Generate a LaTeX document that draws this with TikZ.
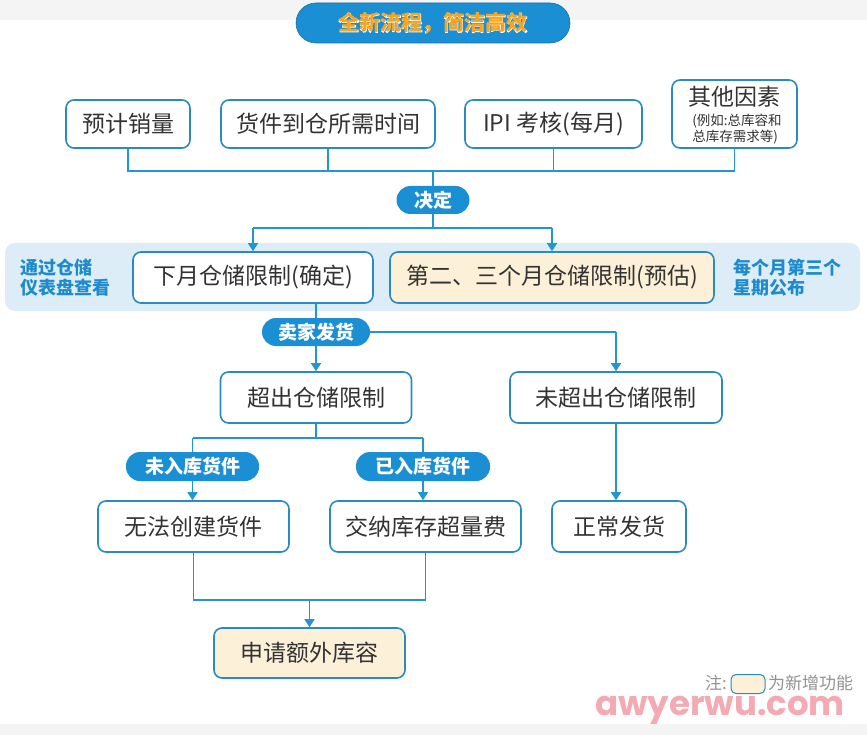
\documentclass[tikz,border=0pt]{standalone}
\usepackage{fontspec}
\usetikzlibrary{arrows.meta,calc}
\newfontfamily\cjk{Noto Sans CJK SC}
\newfontfamily\cjkout[FakeBold=5]{Noto Sans CJK SC}
\newfontfamily\wmfont{Poppins}
\definecolor{bcol}{HTML}{2A8AC4}
\definecolor{lcol}{HTML}{2196D3}
\definecolor{pcol}{HTML}{1A8FD4}
\definecolor{tcol}{HTML}{333333}
\definecolor{cream}{HTML}{FDF0D8}
\definecolor{band}{HTML}{DCEDF7}
\definecolor{bandtxt}{HTML}{1E8CCC}
\definecolor{ttl}{HTML}{F7A520}
\definecolor{graybg}{HTML}{F4F4F4}
\definecolor{wmcol}{HTML}{F4AAB2}
\begin{document}
\begin{tikzpicture}[x=1pt,y=-1pt,
  box/.style={draw=bcol, line width=1.6pt, rounded corners=8pt, fill=white, text=tcol,
    font=\cjk\fontsize{23}{26}\selectfont, inner sep=0pt, align=center},
  newbox/.style={box, fill=cream},
  pill/.style={fill=pcol, rounded corners=14pt, text=white, inner sep=0pt,
    font=\cjk\bfseries\fontsize{19}{22}\selectfont},
  conn/.style={draw=lcol, line width=1.3pt},
  arr/.style={conn, -{Triangle[width=10pt,length=8pt]}},
  bandtext/.style={text=bandtxt, font=\cjk\bfseries\fontsize{18}{20}\selectfont, align=left, inner sep=0pt}
]
\useasboundingbox (0,0) rectangle (867,735);
\fill[white] (0,0) rectangle (867,735);
\fill[graybg] (0,0) rectangle (867,20);
\fill[graybg] (0,724) rectangle (867,735);

% title
\node[fill=pcol, draw=pcol!80!black, line width=0.6pt, rounded corners=20pt, minimum width=274pt, minimum height=40pt, inner sep=0pt] (title) at (433,23) {};
\node[text=white, font=\cjkout\fontsize{21}{24}\selectfont, inner sep=0pt] (titleout) at (title.center) {全新流程，简洁高效};
\node[text=ttl, font=\cjk\bfseries\fontsize{21}{24}\selectfont, inner sep=0pt] (titletext) at (title.center) {全新流程，简洁高效};

% top boxes
\node[box, minimum width=124pt, minimum height=48pt] (n1) at (128,124) {预计销量};
\node[box, minimum width=214pt, minimum height=48pt] (n2) at (328,124) {货件到仓所需时间};
\node[box, minimum width=177pt, minimum height=48pt] (n3) at (553.5,124) {IPI 考核(每月)};
\node[box, minimum width=125pt, minimum height=68pt] (n4) at (734.5,114) {};
\node[text=tcol, font=\cjk\fontsize{23}{26}\selectfont, inner sep=0pt] (n4a) at (734.5,97) {其他因素};
\node[text=tcol, font=\cjk\fontsize{13.5}{16}\selectfont, inner sep=0pt, align=left] (n4b) at (737,129) {(例如:总库容和\\总库存需求等)};

\coordinate (j1) at (0,171);
\draw[conn] (n1.south) -- (n1.south |- j1) -- (n4.south |- j1) -- (n4.south);
\draw[conn] (n2.south) -- (n2.south |- j1);
\draw[conn] (n3.south) -- (n3.south |- j1);

\node[pill, minimum width=73pt, minimum height=28pt] (decide) at (433,200) {决定};
\draw[conn] (decide.north |- j1) -- (decide.north);

% band
\fill[band, rounded corners=10pt] (5,243) rectangle (860,311);
\node[bandtext, anchor=west] (bl) at (20,278) {通过仓储\\仪表盘查看};
\node[bandtext, anchor=west] (br) at (733,278) {每个月第三个\\星期公布};

\node[box, minimum width=240pt, minimum height=51pt] (m1) at (253,277.5) {下月仓储限制(确定)};
\node[newbox, minimum width=324pt, minimum height=51pt] (m2) at (552,277.5) {第二、三个月仓储限制(预估)};

\coordinate (j2) at (0,228);
\draw[conn] (decide.south) -- (decide.south |- j2);
\draw[conn] (m1.north |- j2) -- (m2.north |- j2);
\draw[arr] (m1.north |- j2) -- (m1.north);
\draw[arr] (m2.north |- j2) -- (m2.north);

% seller ships
\node[pill, minimum width=108pt, minimum height=28pt] (sell) at (316,332) {卖家发货};
\draw[conn] (sell.north |- m1.south) -- (sell.north);

\node[box, minimum width=191pt, minimum height=51pt] (e1) at (316,397.5) {超出仓储限制};
\node[box, minimum width=212pt, minimum height=51pt] (e2) at (616,397.5) {未超出仓储限制};
\draw[arr] (sell.south) -- (sell.south |- e1.north);
\draw[conn] (sell.east) -- (e2.north |- sell.east);
\draw[arr] (e2.north |- sell.east) -- (e2.north);

% branches
\node[pill, minimum width=133pt, minimum height=29pt] (p1) at (192.5,466.5) {未入库货件};
\node[pill, minimum width=134pt, minimum height=29pt] (p2) at (423,466.5) {已入库货件};
\coordinate (j3) at (0,438);
\draw[conn] (e1.south) -- (e1.south |- j3);
\draw[conn] (p1.north |- j3) -- (p2.north |- j3);
\draw[conn] (p1.north |- j3) -- (p1.north);
\draw[conn] (p2.north |- j3) -- (p2.north);

\node[box, minimum width=191pt, minimum height=51pt] (b1) at (193.5,526.5) {无法创建货件};
\node[box, minimum width=191pt, minimum height=51pt] (b2) at (425.5,526.5) {交纳库存超量费};
\node[box, minimum width=134pt, minimum height=51pt] (b3) at (619,526.5) {正常发货};
\draw[arr] (p1.south) -- (p1.south |- b1.north);
\draw[arr] (p2.south) -- (p2.south |- b2.north);
\draw[arr] (e2.south) -- (e2.south |- b3.north);

\node[newbox, minimum width=191pt, minimum height=50pt] (last) at (309.5,653) {申请额外库容};
\coordinate (j4) at (0,600);
\draw[conn] (b1.south) -- (b1.south |- j4) -- (b2.south |- j4) -- (b2.south);
\draw[arr] (last.north |- j4) -- (last.north);

% legend
\node[text=gray!85, font=\cjk\fontsize{17}{19}\selectfont, inner sep=0pt, anchor=east] (lg1) at (727,683) {注:};
\node[draw=bcol, fill=cream, line width=1pt, rounded corners=5pt, minimum width=34pt, minimum height=19pt, inner sep=0pt] (lgbox) at (748,684) {};
\node[text=gray!85, font=\cjk\fontsize{17}{19}\selectfont, inner sep=0pt, anchor=west] (lg2) at (768,683) {为新增功能};

% watermark
\node[text=wmcol, font=\wmfont\bfseries\fontsize{34}{36}\selectfont, inner sep=0pt, anchor=center] (wm) at (720,710) {awyerwu.com};
\end{tikzpicture}
\end{document}
